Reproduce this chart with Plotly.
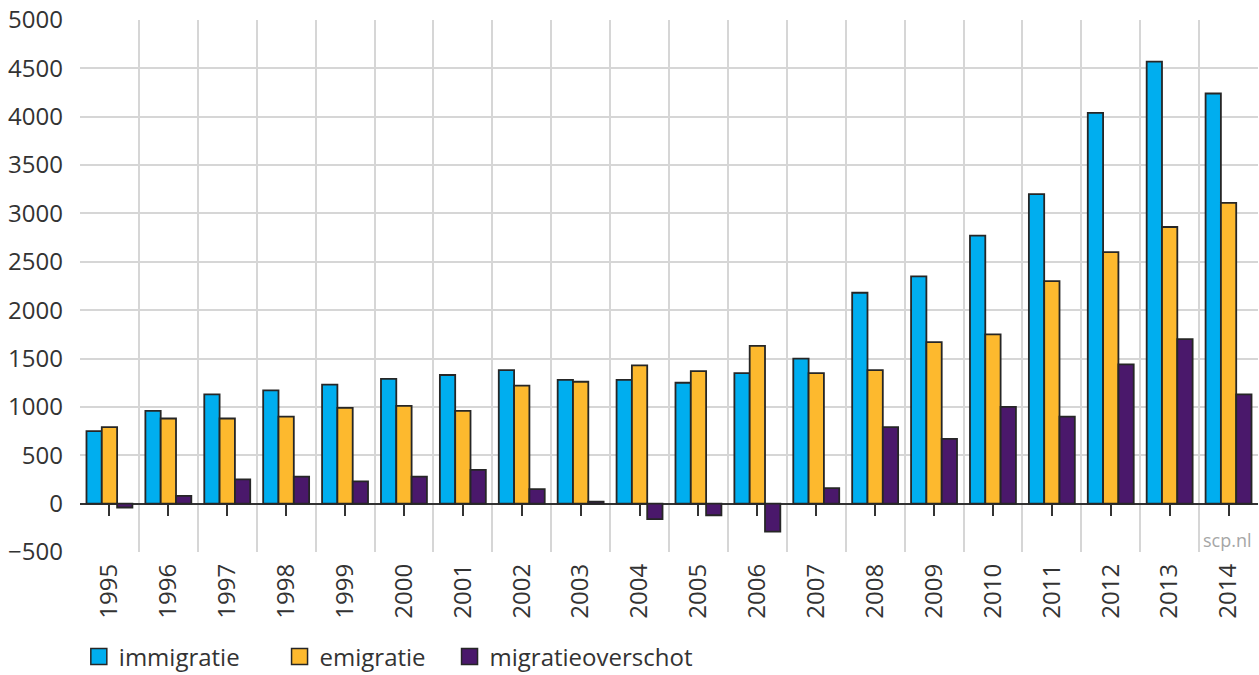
import plotly.graph_objects as go

years = list(range(1995, 2015))
immigratie = [750, 960, 1130, 1170, 1230, 1290, 1330, 1380, 1280, 1280,
              1250, 1350, 1500, 2180, 2350, 2770, 3200, 4040, 4570, 4240]
emigratie = [790, 880, 880, 900, 990, 1010, 960, 1220, 1260, 1430,
             1370, 1630, 1350, 1380, 1670, 1750, 2300, 2600, 2860, 3110]
migratieoverschot = [-40, 80, 250, 280, 230, 280, 350, 150, 20, -160,
                     -120, -290, 160, 790, 670, 1000, 900, 1440, 1700, 1130]

series = [
    ("immigratie", immigratie, "#00AEEF"),
    ("emigratie", emigratie, "#FDB92E"),
    ("migratieoverschot", migratieoverschot, "#4A186B"),
]
# left edge of each legend entry, as a fraction of the plot width
legend_x = [-0.001, 0.1694, 0.3137]

FONT = "Open Sans"
TEXT = "#333333"
GRID = "#D6D6D6"
EDGE = "#262626"

fig = go.Figure()
for name, vals, col in series:
    fig.add_trace(go.Bar(
        x=years, y=vals, name=name, showlegend=False,
        marker=dict(color=col, line=dict(color=EDGE, width=1.8)),
    ))

# legend-only entries so the swatches can be bigger than the bar default
legend_ids = ["legend", "legend2", "legend3"]
for (name, vals, col), lid in zip(series, legend_ids):
    fig.add_trace(go.Scatter(
        x=[None], y=[None], name=name, mode="markers", legend=lid,
        marker=dict(symbol="square", size=16, color=col,
                    line=dict(color=EDGE, width=1.5)),
    ))

# empty overlay axis that puts the year ticks on the zero line
fig.add_trace(go.Scatter(x=years, y=[0] * len(years), xaxis="x2",
                         mode="markers", marker=dict(opacity=0),
                         showlegend=False, hoverinfo="skip"))

ymin, ymax = -500, 5000
xr = [years[0] - 0.5, years[-1] + 0.5]

legend_style = dict(orientation="h", xanchor="left", y=-0.197,
                    yanchor="middle", font=dict(size=24, color=TEXT),
                    itemwidth=30, bgcolor="rgba(0,0,0,0)")

fig.update_layout(
    width=1259, height=675,
    margin=dict(l=80, r=1, t=20, b=123, autoexpand=False),
    paper_bgcolor="white", plot_bgcolor="white",
    font=dict(family=FONT, size=22, color=TEXT),
    barmode="group", bargap=0.22, bargroupgap=0,
    xaxis=dict(
        range=xr, tickmode="array", tickvals=years,
        ticktext=[str(y) for y in years], tickangle=-90,
        showgrid=False, zeroline=False, ticks="",
        tickfont=dict(size=24, color=TEXT), ticklabelstandoff=6,
        ticklabeloverflow="allow",
        minor=dict(tickmode="array",
                   tickvals=[y - 0.5 for y in years] + [years[-1] + 0.5],
                   showgrid=True, gridcolor=GRID, gridwidth=2, ticks=""),
    ),
    xaxis2=dict(
        overlaying="x", matches="x", anchor="free",
        position=(0 - ymin) / (ymax - ymin), side="bottom",
        tickmode="array", tickvals=years, showticklabels=False,
        ticks="outside", ticklen=11, tickwidth=2, tickcolor=TEXT,
        showgrid=False, zeroline=False, showline=False,
    ),
    yaxis=dict(
        range=[ymin, ymax], dtick=500, showgrid=True,
        gridcolor=GRID, gridwidth=2,
        zeroline=True, zerolinecolor=TEXT, zerolinewidth=2,
        tickfont=dict(size=24, color=TEXT), ticks="", ticklabelstandoff=16,
        ticklabeloverflow="allow",
    ),
    legend=dict(x=legend_x[0], **legend_style),
    legend2=dict(x=legend_x[1], **legend_style),
    legend3=dict(x=legend_x[2], **legend_style),
    showlegend=True,
    annotations=[dict(text="scp.nl", xref="paper", yref="paper", x=0.997,
                      y=0.022, xanchor="right", yanchor="middle",
                      showarrow=False, font=dict(size=18, color="#A6A6A6"))],
)

# drop the browser's default body margin so the figure fills the window
fig.write_html("out.html", config={"displayModeBar": False},
               post_script="document.body.style.margin='0';"
                           "document.body.style.overflow='hidden';")
